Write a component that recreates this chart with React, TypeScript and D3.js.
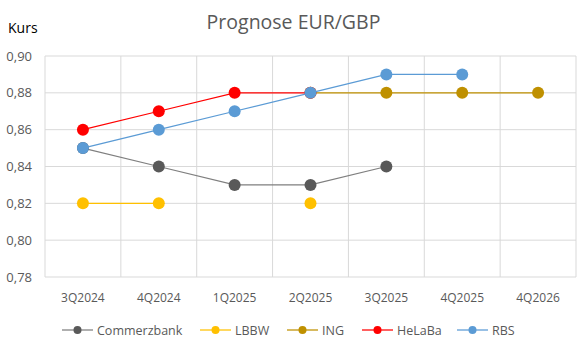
import * as d3 from "d3";

const categories = ["3Q2024", "4Q2024", "1Q2025", "2Q2025", "3Q2025", "4Q2025", "4Q2026"];

// null = keine Prognose
const commerzbank = [0.85, 0.84, 0.83, 0.83, 0.84, null, null];
const lbbw = [0.82, 0.82, null, 0.82, null, null, null];
const ing = [null, null, null, 0.88, 0.88, 0.88, 0.88];
const helaba = [0.86, 0.87, 0.88, 0.88, null, null, null];
const rbs = [0.85, 0.86, 0.87, 0.88, 0.89, 0.89, null];

const yTicks = [0.78, 0.8, 0.82, 0.84, 0.86, 0.88, 0.9];

const series = [
  { name: "Commerzbank", values: commerzbank, line: "#7f7f7f", dot: "#595959" },
  { name: "LBBW", values: lbbw, line: "#ffc000", dot: "#ffc000" },
  { name: "ING", values: ing, line: "#bf9000", dot: "#bf9000" },
  { name: "HeLaBa", values: helaba, line: "#ff0000", dot: "#ff0000" },
  { name: "RBS", values: rbs, line: "#5b9bd5", dot: "#5b9bd5" },
];

const legendX = [62, 200, 287, 362, 457];

const W = 587;
const H = 352;
const margin = { top: 56, right: 11, bottom: 75, left: 45 };
const FONT = "'Open Sans', sans-serif";
const TEXT = "#595959";

export default function App() {
  const x = d3
    .scaleBand<string>()
    .domain(categories)
    .range([margin.left, W - margin.right]);
  const y = d3
    .scaleLinear()
    .domain([0.78, 0.9])
    .range([H - margin.bottom, margin.top]);

  const cx = (i: number) => (x(categories[i]) ?? 0) + x.bandwidth() / 2;

  const line = d3
    .line<number | null>()
    .defined((d) => d !== null)
    .x((_, i) => cx(i))
    .y((d) => y(d as number));

  return (
    <svg
      width={W}
      height={H}
      style={{ position: "absolute", left: 0, top: 0, background: "#fff" }}
      fontFamily={FONT}
    >
      <text x={W / 2} y={29} textAnchor="middle" fontSize={19.5} fill={TEXT}>
        Prognose EUR/GBP
      </text>
      <text x={8} y={33} fontSize={14} fill="#000">
        Kurs
      </text>

      {/* horizontal grid */}
      {yTicks.map((t) => (
        <g key={t}>
          <line
            x1={margin.left}
            x2={W - margin.right}
            y1={y(t)}
            y2={y(t)}
            stroke="#d9d9d9"
          />
          <text
            x={32}
            y={y(t) + 4.5}
            textAnchor="end"
            fontSize={13}
            fill={TEXT}
          >
            {d3.format(".2f")(t).replace(".", ",")}
          </text>
        </g>
      ))}

      {/* vertical grid */}
      {categories.map((c) => (
        <line
          key={c}
          x1={x(c)}
          x2={x(c)}
          y1={margin.top}
          y2={H - margin.bottom}
          stroke="#d9d9d9"
        />
      ))}
      <line
        x1={W - margin.right}
        x2={W - margin.right}
        y1={margin.top}
        y2={H - margin.bottom}
        stroke="#d9d9d9"
      />

      {categories.map((c, i) => (
        <text
          key={c}
          x={cx(i)}
          y={302}
          textAnchor="middle"
          fontSize={12}
          fill={TEXT}
        >
          {c}
        </text>
      ))}

      {series.map((s) => (
        <g key={s.name}>
          <path d={line(s.values) ?? ""} fill="none" stroke={s.line} strokeWidth={1.25} />
          {s.values.map((v, i) =>
            v === null ? null : (
              <circle key={i} cx={cx(i)} cy={y(v)} r={6} fill={s.dot} />
            )
          )}
        </g>
      ))}

      {/* legend */}
      {series.map((s, i) => (
        <g key={s.name} transform={`translate(${legendX[i]},330)`}>
          <line x1={0} x2={31} y1={0} y2={0} stroke={s.line} strokeWidth={1.25} />
          <circle cx={15.5} cy={0} r={4} fill={s.dot} />
          <text x={35} y={4.5} fontSize={12.5} fill={TEXT}>
            {s.name}
          </text>
        </g>
      ))}
    </svg>
  );
}
